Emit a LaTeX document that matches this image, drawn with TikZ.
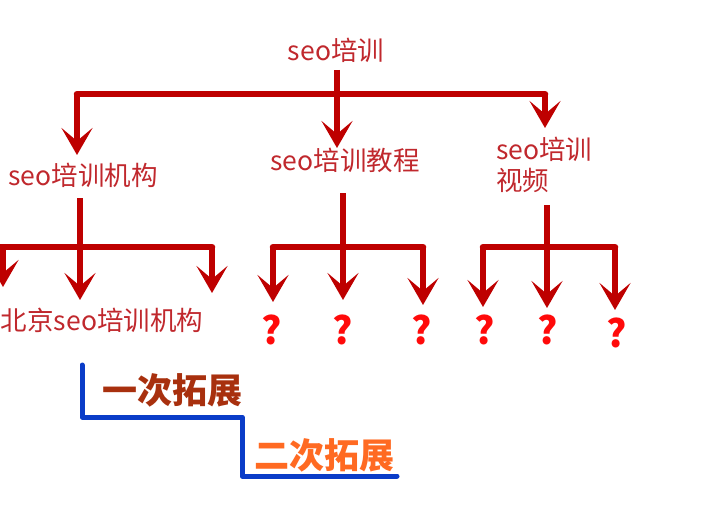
\documentclass[tikz,border=0pt]{standalone}
\usepackage{fontspec}
\setmainfont{Noto Sans CJK SC}
\newfontfamily\cjkbold{Noto Sans CJK SC Black}
\newfontfamily\qfont{Noto Sans CJK SC Black}
\usetikzlibrary{arrows.meta}
\definecolor{linered}{HTML}{BE0000}
\definecolor{textred}{HTML}{C0282D}
\definecolor{qred}{HTML}{FF0A0A}
\definecolor{lineblue}{HTML}{0A3CC8}
\definecolor{brown1}{HTML}{A8300E}
\definecolor{orange2}{HTML}{FF6A22}
\tikzset{
  rl/.style={draw=linered, line width=6.5pt, line cap=round, line join=round},
  ar/.style={rl, line cap=butt, -{Stealth[length=27pt,width=31pt,inset=13pt,fill=linered]}},
  lbl/.style={text=textred, font=\fontsize{26.5}{31}\selectfont, inner sep=0pt},
  qm/.style={text=qred, font=\qfont\fontsize{38}{40}\selectfont, inner sep=0pt},
  big/.style={font=\cjkbold\fontsize{35}{38}\selectfont, inner sep=0pt},
  bl/.style={draw=lineblue, line width=5pt, line cap=round, line join=round}
}
\begin{document}
\begin{tikzpicture}[x=1pt,y=-1pt]
\useasboundingbox (0,0) rectangle (727,508);
% level 0
\node[lbl] (r) at (336,50) {seo培训};
% level 1 texts
\node[lbl] (a) at (83,175) {seo培训机构};
\node[lbl] (b) at (345,160) {seo培训教程};
\node[lbl, align=left, anchor=west] (c) at (496,165) {seo培训\\视频};
% level 1 connectors
\coordinate (r0) at (337,70);
\coordinate (rb) at (337,94);
\coordinate (ra) at (77,94);
\coordinate (rc) at (545,94);
\coordinate (ta) at (77,155);
\coordinate (tb) at (337,148);
\coordinate (tc) at (545,128);
\draw[rl] (ra) -- (rc);
\draw[ar] (r0) -- (tb);
\draw[ar] (ra) -- (ta);
\draw[ar] (rc) -- (tc);
% group 1
\node[lbl] (a2) at (102,320) {北京seo培训机构};
\coordinate (a0) at (80,198);
\coordinate (aL) at (3,247);
\coordinate (aR) at (212,247);
\coordinate (aLt) at (3,287);
\coordinate (aMt) at (80,300);
\coordinate (aRt) at (212,293);
\draw[rl] (-10,247) -- (aR);
\draw[ar] (a0) -- (aMt);
\draw[ar] (aL) -- (aLt);
\draw[ar] (aR) -- (aRt);
% group 2
\coordinate (b0) at (343,193);
\coordinate (bL) at (273,247);
\coordinate (bR) at (423,247);
\coordinate (bLt) at (273,302);
\coordinate (bMt) at (343,300);
\coordinate (bRt) at (423,305);
\draw[rl] (bL) -- (bR);
\draw[ar] (b0) -- (bMt);
\draw[ar] (bL) -- (bLt);
\draw[ar] (bR) -- (bRt);
\node[qm] (q1) at (272,330) {?};
\node[qm] (q2) at (343,330) {?};
\node[qm] (q3) at (422,330) {?};
% group 3
\coordinate (c0) at (547,205);
\coordinate (cL) at (483,247);
\coordinate (cR) at (615,247);
\coordinate (cLt) at (483,307);
\coordinate (cMt) at (547,308);
\coordinate (cRt) at (615,310);
\draw[rl] (cL) -- (cR);
\draw[ar] (c0) -- (cMt);
\draw[ar] (cL) -- (cLt);
\draw[ar] (cR) -- (cRt);
\node[qm] (q4) at (485,330) {?};
\node[qm] (q5) at (548,330) {?};
\node[qm] (q6) at (617,333) {?};
% expansion steps
\coordinate (s0) at (82,365);
\coordinate (s1) at (82,417);
\coordinate (s2) at (242,417);
\coordinate (s3) at (242,476);
\coordinate (s4) at (397,476);
\draw[bl] (s0) -- (s1) -- (s2) -- (s3) -- (s4);
\node[big, text=brown1] (e1) at (172,390) {一次拓展};
\node[big, text=orange2] (e2) at (324,455) {二次拓展};
\end{tikzpicture}
\end{document}
